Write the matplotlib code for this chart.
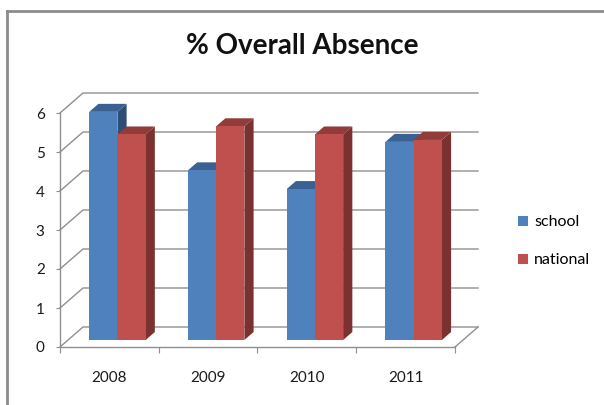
import matplotlib
matplotlib.use("Agg")
import matplotlib.pyplot as plt
from matplotlib.patches import Polygon
from matplotlib.lines import Line2D
import numpy as np

plt.rcParams['font.family'] = ['Lato', 'DejaVu Sans']

years = ['2008', '2009', '2010', '2011']
school = [5.85, 4.35, 3.87, 5.08]
national = [5.27, 5.48, 5.27, 5.13]

series = [
    ('school', school, '#4f81bd', '#3b6192', '#2f4e76'),
    ('national', national, '#c0504d', '#913c3a', '#7a312f'),
]

W, H = 604, 405
fig = plt.figure(figsize=(W / 100, H / 100), dpi=100)
# front plane of the plot box, in pixels
left, right, base, top = 60, 455, 347, 113
ax = fig.add_axes([left / W, 1 - base / H, (right - left) / W, (base - top) / H])

ymax = 6
ax.set_xlim(-0.5, len(years) - 0.5)
ax.set_ylim(0, ymax)

# oblique depth of the walls, in data units
DX = 23 / ((right - left) / len(years))
DY = 20 / ((base - top) / ymax)
f_front, f_back = 0.35, 0.75
bw = 1 / 3.5
grid_c = '#8f8f8f'

# side wall + back wall gridlines
x0 = -0.5
x1 = len(years) - 0.5
for k in range(ymax + 1):
    ax.plot([x0, x0 + DX, x1 + DX], [k, k + DY, k + DY], color=grid_c, lw=1,
            clip_on=False, zorder=1)
ax.plot([x1, x1 + DX], [0, DY], color=grid_c, lw=1, clip_on=False, zorder=1)

ox, oy = f_front * DX, f_front * DY
ddx, ddy = (f_back - f_front) * DX, (f_back - f_front) * DY
idx = np.arange(len(years))
handles = []
for i in idx:
    for j, (name, vals, c_front, c_top, c_side) in enumerate(series):
        xl = i - bw + j * bw + ox
        v = vals[i]
        side = Polygon([(xl + bw, oy), (xl + bw, v + oy), (xl + bw + ddx, v + oy + ddy),
                        (xl + bw + ddx, oy + ddy)], closed=True, fc=c_side, ec='none',
                       zorder=3 + 2 * i + j, clip_on=False)
        topf = Polygon([(xl, v + oy), (xl + bw, v + oy), (xl + bw + ddx, v + oy + ddy),
                        (xl + ddx, v + oy + ddy)], closed=True, fc=c_top, ec='none',
                       zorder=3 + 2 * i + j, clip_on=False)
        ax.add_patch(side)
        ax.add_patch(topf)
        b = ax.bar(xl, v, bottom=oy, width=bw, align='edge', color=c_front,
                   zorder=3 + 2 * i + j + 0.5, clip_on=False)
        if i == 0:
            handles.append((b, name))

for s in ['top', 'right']:
    ax.spines[s].set_visible(False)
for s in ['left', 'bottom']:
    ax.spines[s].set_color(grid_c)
    ax.spines[s].set_linewidth(1)
ax.set_facecolor('none')

ax.set_yticks(range(ymax + 1))
ax.tick_params(axis='y', length=3, color=grid_c, pad=8, labelsize=11, labelcolor='#1a1a1a')
ax.set_xticks(np.arange(-0.5, len(years)))
ax.set_xticklabels([])
ax.set_xticks(idx, minor=True)
ax.set_xticklabels(years, minor=True)
ax.tick_params(axis='x', which='major', length=4, color=grid_c)
ax.tick_params(axis='x', which='minor', length=0, pad=17, labelsize=11, labelcolor='#1a1a1a')

fig.text(302 / W, 1 - 46 / H, '% Overall Absence', ha='center', va='center',
         fontsize=20, fontweight='bold', color='#111111')

ax.legend([h for h, _ in handles], [n for _, n in handles], loc='upper left',
          bbox_to_anchor=(504 / W, 1 - 201 / H), bbox_transform=fig.transFigure,
          frameon=False, fontsize=11.5, handlelength=0.6, handleheight=0.6,
          handletextpad=0.4, labelspacing=1.5)

# chart-area border
fig.add_artist(Line2D([7 / W, 1], [1 - 11 / H, 1 - 11 / H], transform=fig.transFigure,
                      color='#8c8c8c', lw=2))
fig.add_artist(Line2D([7 / W, 7 / W], [0, 1 - 11 / H], transform=fig.transFigure,
                      color='#8c8c8c', lw=2))

fig.savefig('out.png', dpi=100)
